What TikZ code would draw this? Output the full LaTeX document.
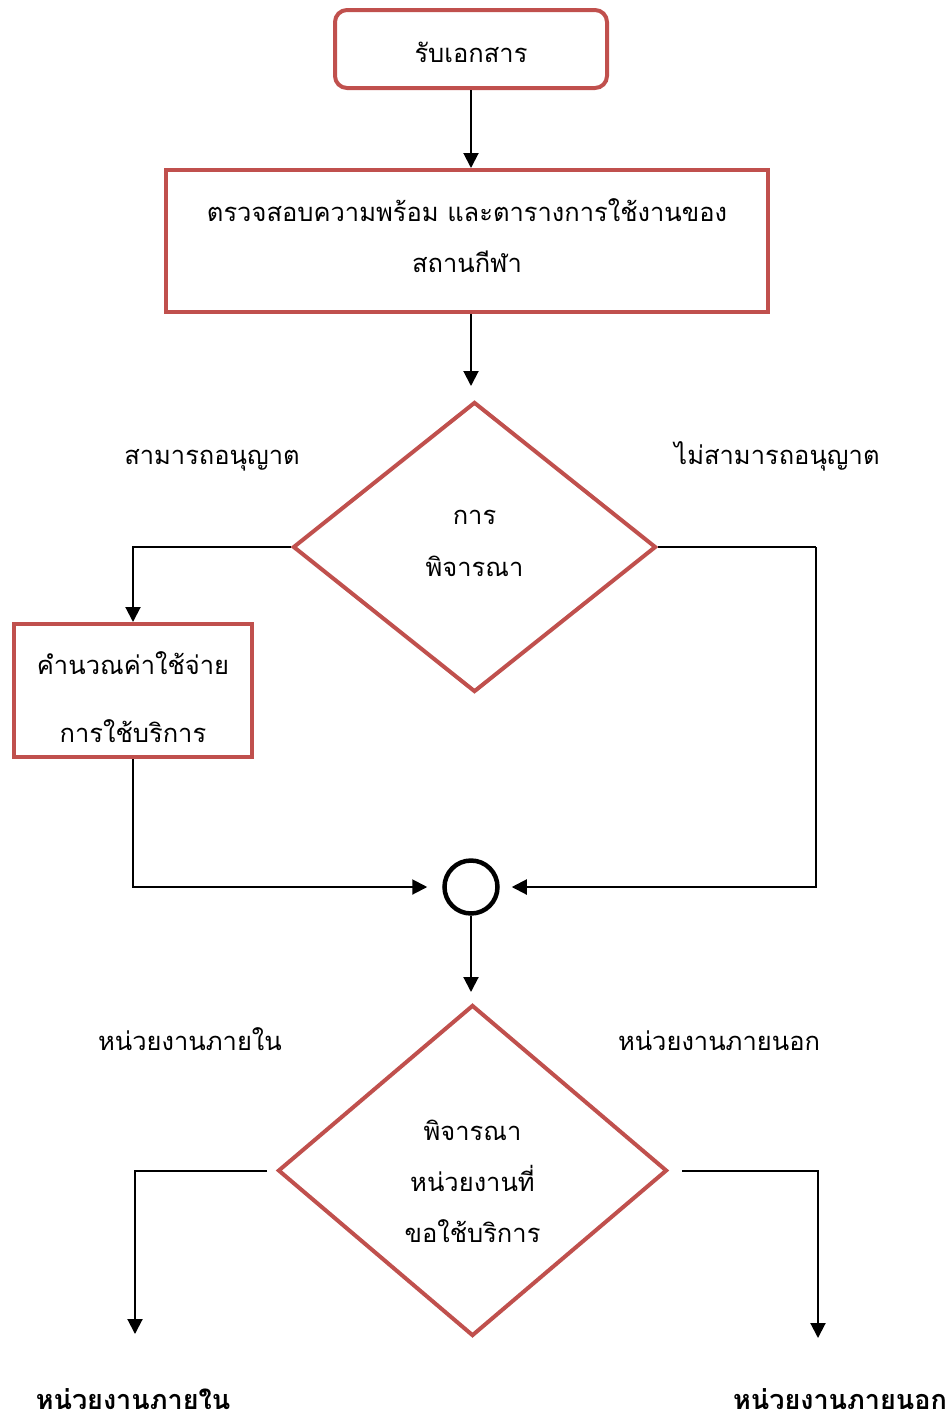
\documentclass[tikz,border=0pt]{standalone}
\usepackage{fontspec}
\setmainfont[Script=Thai]{Loma}
\usetikzlibrary{arrows.meta,shapes.geometric}

\definecolor{boxred}{RGB}{192,80,77}

% centred lines of text, shifted vertically by #1 without taking up room
\newcommand{\celltext}[2]{\raisebox{#1}[0pt][0pt]{\begin{tabular}{@{}c@{}}#2\end{tabular}}}

\begin{document}
\begin{tikzpicture}[x=1pt,y=-1pt,
  every node/.style={font=\fontsize{25.5}{51}\selectfont},
  redbox/.style={draw=boxred,line width=4pt,inner sep=0pt},
  decision/.style={diamond,draw=boxred,line width=4pt,inner sep=0pt},
  link/.style={draw=black,line width=2pt},
  flow/.style={link,-{Triangle[length=15pt,width=15pt]}},
  tag/.style={anchor=base},
  result/.style={anchor=base,font=\bfseries\fontsize{27}{34}\selectfont},
]
\useasboundingbox (0,0) rectangle (952,1422);

% process steps and decisions
\node[redbox,rounded corners=12pt,minimum width=272pt,minimum height=78pt] (recv) at (471,49) {\celltext{-9.4pt}{รับเอกสาร}};
\node[redbox,minimum width=602pt,minimum height=142pt] (check) at (467,241) {\celltext{-1.9pt}{ตรวจสอบความพร้อม และตารางการใช้งานของ\\สถานกีฬา}};
\node[decision,minimum width=363pt,minimum height=290pt] (d1) at (474.5,547) {\fontsize{25.5}{52}\selectfont\celltext{0.6pt}{การ\\พิจารณา}};
\node[redbox,minimum width=238pt,minimum height=133pt] (calc) at (133,690.5) {\fontsize{25.5}{68}\selectfont\celltext{-10.9pt}{คำนวณค่าใช้จ่าย\\การใช้บริการ}};
\node[circle,draw,line width=4.5pt,minimum size=53pt,inner sep=0pt] (join) at (471,887) {};
\node[decision,minimum width=389pt,minimum height=331pt] (d2) at (472.5,1170.5) {\celltext{-16.9pt}{พิจารณา\\หน่วยงานที่\\ขอใช้บริการ}};

% branch labels
\node[tag] (yes) at (212,464) {สามารถอนุญาต};
\node[tag] (no) at (777,464) {ไม่สามารถอนุญาต};
\node[tag] (inl) at (190,1050) {หน่วยงานภายใน};
\node[tag] (outl) at (719,1050) {หน่วยงานภายนอก};
\node[result] (inres) at (133,1409) {หน่วยงานภายใน};
\node[result] (outres) at (840,1409) {หน่วยงานภายนอก};

% bend points and free ends
\coordinate (rb) at (816,547);
\coordinate (inend) at (135,1334);
\coordinate (outend) at (818,1338);

% connectors
\draw[flow] (recv.south) -- (recv.south |- check.north);
\draw[flow,shorten >=14pt] (recv.south |- check.south) -- (recv.south |- d1.north);
\draw[flow] (d1.west) -| (calc.north);
\draw[flow,shorten >=15pt] (calc.south) |- (join.west);
\draw[link] (d1.east) -- (rb);
\draw[flow,shorten >=12pt] (rb) |- (join.east);
\draw[flow,shorten >=11pt] (join.south) -- (join.south |- d2.north);
\draw[flow,shorten <=9pt] (d2.west) -| (inend);
\draw[flow,shorten <=13pt] (d2.east) -| (outend);
\end{tikzpicture}
\end{document}
